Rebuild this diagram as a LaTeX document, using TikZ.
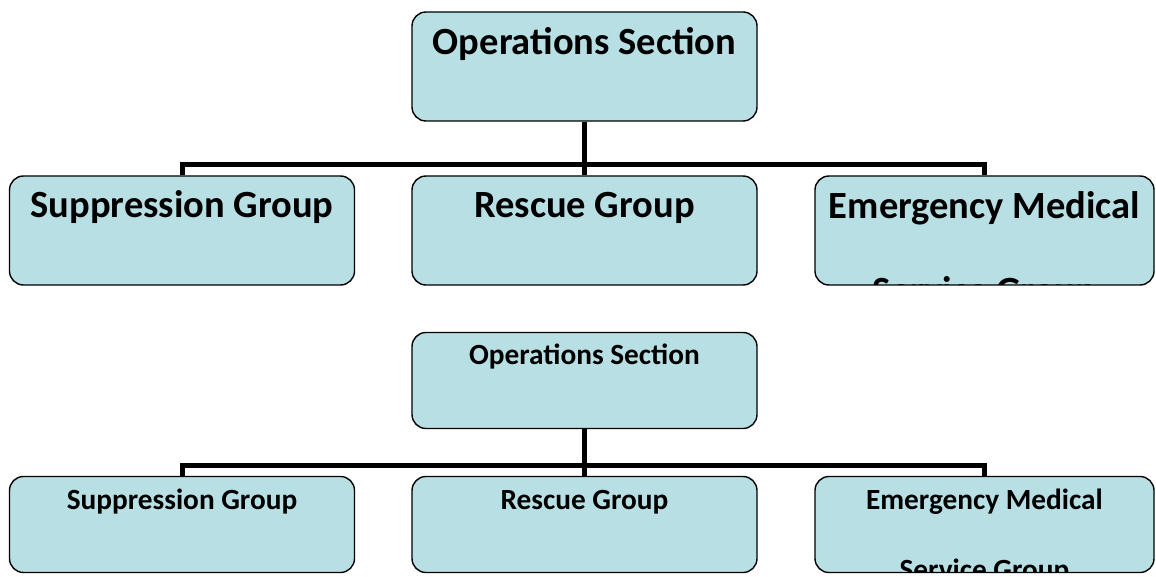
\documentclass[tikz,border=0pt]{standalone}
\usepackage{fontspec}
\setmainfont{Carlito}
\usetikzlibrary{positioning}
\definecolor{unitfill}{HTML}{B8DFE3}

\begin{document}
\begin{tikzpicture}[x=1pt,y=-1pt,
  u/.style={draw,line width=1.4pt,rounded corners=14pt,fill=unitfill,
    inner sep=0pt,minimum width=345pt},
  big/.style 2 args={u,minimum height=109pt,path picture={\node[anchor=base,
    align=center,inner sep=0pt,font=\bfseries\fontsize{38.5}{85}\selectfont]
    at ([yshift=-#2]path picture bounding box.north) {#1};}},
  small/.style 2 args={u,minimum height=96pt,path picture={\node[anchor=base,
    align=center,inner sep=0pt,font=\bfseries\fontsize{29.3}{70}\selectfont]
    at ([yshift=-#2]path picture bounding box.north) {#1};}},
  link/.style={line width=5pt}
]
\useasboundingbox (0,0) rectangle (1156,577);

% upper chart
\node[big={Operations Section}{43pt}] (opsA) at (584.5,66.5) {};
\node[big={Suppression Group}{42pt}] (supA) at (182,230.5) {};
\node[big={Rescue Group}{42pt}] (resA) at (584.5,230.5) {};
\node[big={Emergency Medical\\Service Group}{127pt},minimum width=339pt]
  (emsA) at (984.5,230.5) {};
\coordinate (barA) at (584.5,165);

\draw[link] (opsA) -- (resA);
\draw[link] (supA.north) |- (barA) -| (emsA.north);

% lower chart
\node[small={Operations Section}{32pt}] (opsB) at (584.5,380.5) {};
\node[small={Suppression Group}{33pt}] (supB) at (182,524.5) {};
\node[small={Rescue Group}{33pt}] (resB) at (584.5,524.5) {};
\node[small={Emergency Medical\\Service Group}{103pt},minimum width=339pt]
  (emsB) at (984.5,524.5) {};
\coordinate (barB) at (584.5,465);

\draw[link] (opsB) -- (resB);
\draw[link] (supB.north) |- (barB) -| (emsB.north);
\end{tikzpicture}
\end{document}
